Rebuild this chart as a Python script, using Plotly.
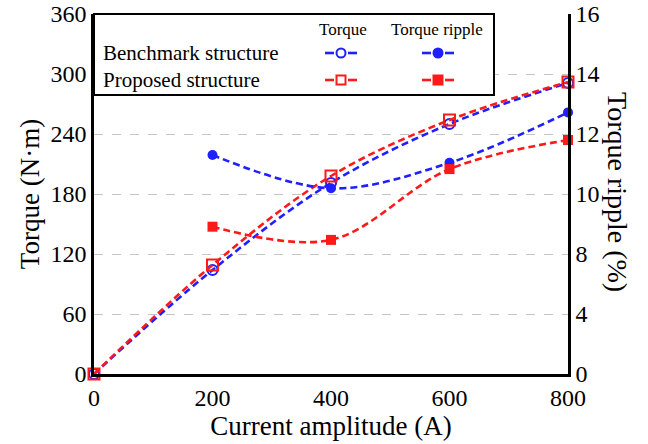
import plotly.graph_objects as go

current = [0, 200, 400, 600, 800]
torque_bench = [0, 104, 191, 250, 291]
torque_prop = [0, 109, 198, 254, 292]
ripple_x = [200, 400, 600, 800]
ripple_bench = [11.30, 10.19, 11.04, 12.72]
ripple_prop = [8.91, 8.47, 10.83, 11.80]

torque_ticks = [0, 60, 120, 180, 240, 300, 360]
ripple_tickvals = [4, 6, 8, 10, 12, 14, 16]
ripple_ticktext = ["0", "4", "8", "10", "12", "14", "16"]
x_ticks = [0, 200, 400, 600, 800]

BLUE = "#1f1fff"
RED = "#ff1a1a"
FONT = "Liberation Serif"
DASH = "7px,4px"

fig = go.Figure()
line_kw = dict(shape="spline", smoothing=1.0, width=2.6, dash=DASH)

fig.add_trace(go.Scatter(x=ripple_x, y=ripple_bench, yaxis="y2", mode="lines+markers",
                         line=dict(color=BLUE, **line_kw),
                         marker=dict(symbol="circle", size=10, color=BLUE),
                         cliponaxis=False, showlegend=False))
fig.add_trace(go.Scatter(x=current, y=torque_bench, mode="lines+markers",
                         line=dict(color=BLUE, **line_kw),
                         marker=dict(symbol="circle-open", size=10, color=BLUE, line=dict(width=2)),
                         cliponaxis=False, showlegend=False))
fig.add_trace(go.Scatter(x=ripple_x, y=ripple_prop, yaxis="y2", mode="lines+markers",
                         line=dict(color=RED, **line_kw),
                         marker=dict(symbol="square", size=10, color=RED),
                         cliponaxis=False, showlegend=False))
fig.add_trace(go.Scatter(x=current, y=torque_prop, mode="lines+markers",
                         line=dict(color=RED, **line_kw),
                         marker=dict(symbol="square-open", size=11, color=RED, line=dict(width=2)),
                         cliponaxis=False, showlegend=False))

W, H = 648, 444
L, R, T, B = 94, 80, 14, 70
PW, PH = W - L - R, H - T - B


def px(x):
    return (x - L) / PW


def py(y):
    return (H - B - y) / PH


shapes = []
annotations = []


def text(x, y, s, size, xanchor="center", angle=0):
    annotations.append(dict(xref="paper", yref="paper", x=px(x), y=py(y), text=s,
                            showarrow=False, xanchor=xanchor, yanchor="middle",
                            textangle=angle, font=dict(family=FONT, size=size, color="black")))


# legend box
shapes.append(dict(type="rect", xref="paper", yref="paper", x0=px(94), x1=px(494),
                   y0=py(95), y1=py(14), line=dict(color="black", width=2),
                   fillcolor="white", layer="above"))
text(343, 30, "Torque", 17)
text(437, 30, "Torque ripple", 17)
text(101, 53, "Benchmark structure", 21, xanchor="left")
text(101, 80, "Proposed structure", 21, xanchor="left")

legend_items = [
    (341, 53, BLUE, "circle", False),
    (438, 53, BLUE, "circle", True),
    (341, 80, RED, "rect", False),
    (438, 80, RED, "rect", True),
]
for cx, cy, col, kind, filled in legend_items:
    for a, b in [(cx - 16, cx - 7), (cx + 7, cx + 16)]:
        shapes.append(dict(type="line", xref="paper", yref="paper", x0=px(a), x1=px(b),
                           y0=py(cy), y1=py(cy), line=dict(color=col, width=2.6), layer="above"))
    r = 4.5
    shapes.append(dict(type=kind, xref="paper", yref="paper", x0=px(cx - r), x1=px(cx + r),
                       y0=py(cy + r), y1=py(cy - r), line=dict(color=col, width=2),
                       fillcolor=col if filled else "white", layer="above"))

text(618, 192, "Torque ripple (%)", 28, angle=90)

fig.update_layout(
    width=W, height=H,
    margin=dict(l=L, r=R, t=T, b=B),
    paper_bgcolor="white", plot_bgcolor="white",
    font=dict(family=FONT, size=24, color="black"),
    xaxis=dict(range=[0, 800], tickvals=x_ticks, showgrid=False, zeroline=False, automargin=False,
               showline=True, linecolor="black", linewidth=2.5, ticks="",
               title=dict(text="Current amplitude (A)", font=dict(size=27), standoff=0),
               tickfont=dict(size=24)),
    yaxis=dict(range=[0, 360], tickvals=torque_ticks, showgrid=True, gridcolor="#c4c4c4",
               griddash="dash", gridwidth=1, zeroline=False, automargin=False,
               showline=True, linecolor="black", linewidth=2.5, ticks="",
               title=dict(text="Torque (N·m)", font=dict(size=27), standoff=4),
               tickfont=dict(size=24)),
    yaxis2=dict(range=[4, 16], tickvals=ripple_tickvals, ticktext=ripple_ticktext,
                overlaying="y", side="right", showgrid=False, zeroline=False, automargin=False,
                showline=True, linecolor="black", linewidth=2.5, ticks="",
                tickfont=dict(size=24)),
    shapes=shapes,
    annotations=annotations,
    showlegend=False,
)

fig.write_html("out.html")
